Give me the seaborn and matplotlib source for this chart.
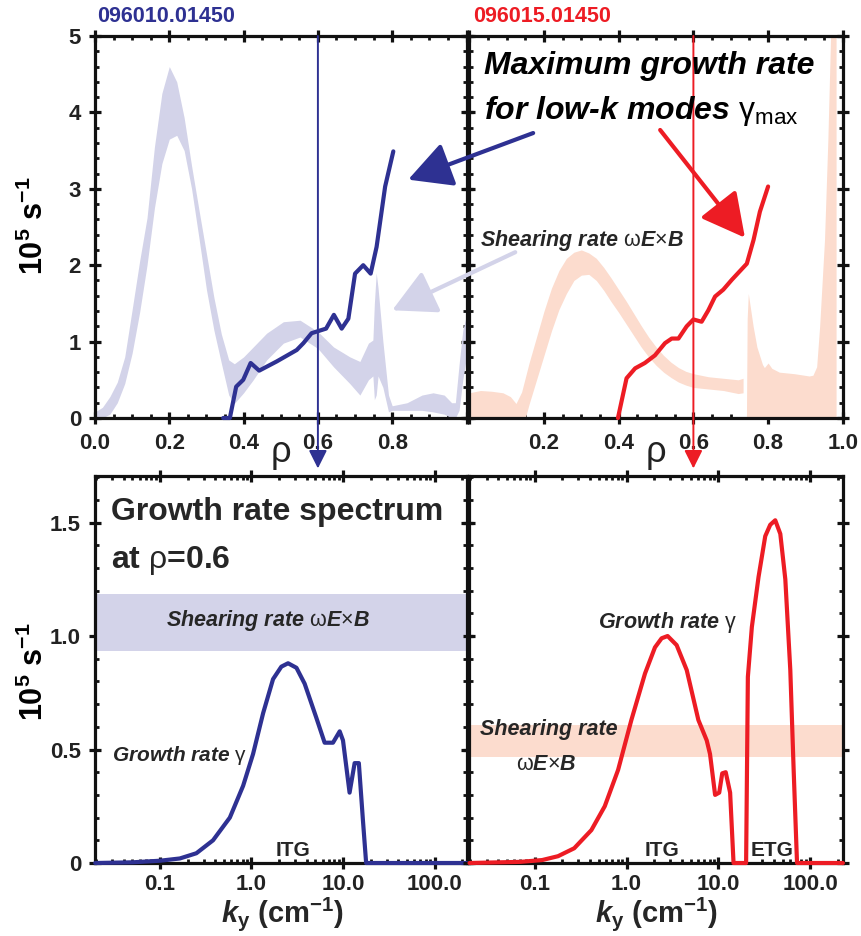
import matplotlib
matplotlib.use("Agg")
import matplotlib.pyplot as plt
import seaborn as sns
from matplotlib.ticker import MultipleLocator, FixedLocator, FixedFormatter, LogLocator, NullFormatter

# ---------------- data ----------------
# shot 096010: E x B shearing-rate band vs rho
rho_shear_10 = [0.0, 0.02, 0.04, 0.06, 0.08, 0.10, 0.12, 0.14, 0.16, 0.18, 0.20, 0.22, 0.24, 0.26,
                0.28, 0.30, 0.32, 0.34, 0.36, 0.375, 0.40, 0.426, 0.462, 0.507, 0.552, 0.60, 0.642,
                0.686, 0.713, 0.736, 0.748, 0.752, 0.757, 0.762, 0.775, 0.79, 0.80, 0.84, 0.88, 0.91,
                0.94, 0.96, 0.97, 0.98, 0.99, 1.0]
shear_lo_10 = [0.0, 0.0, 0.05, 0.2, 0.45, 0.85, 1.38, 2.0, 2.75, 3.33, 3.65, 3.7, 3.5, 3.0, 2.35,
               1.68, 1.15, 0.72, 0.3, 0.19, 0.33, 0.5, 0.76, 0.98, 1.06, 0.91, 0.67, 0.45, 0.30,
               0.5, 0.55, 0.24, 0.3, 0.55, 0.4, 0.08, 0.1, 0.1, 0.1, 0.08, 0.05, 0.0, 0.0, 0.1,
               0.5, 0.8]
shear_hi_10 = [0.08, 0.14, 0.28, 0.47, 0.8, 1.42, 2.05, 2.62, 3.55, 4.25, 4.6, 4.4, 3.93, 3.3, 2.72,
               2.15, 1.58, 1.1, 0.76, 0.71, 0.8, 0.93, 1.11, 1.26, 1.28, 1.13, 0.93, 0.8, 0.74,
               0.98, 1.02, 1.5, 1.9, 1.7, 1.0, 0.3, 0.16, 0.2, 0.3, 0.33, 0.3, 0.2, 0.2, 0.7,
               1.15, 1.35]

# shot 096010: maximum low-k growth rate vs rho
rho_gmax_10 = [0.345, 0.363, 0.380, 0.399, 0.419, 0.442, 0.489, 0.543, 0.561, 0.583, 0.622, 0.643,
               0.664, 0.682, 0.700, 0.722, 0.742, 0.758, 0.781, 0.803]
gmax_10 = [0.0, 0.0, 0.41, 0.50, 0.72, 0.62, 0.74, 0.89, 0.98, 1.11, 1.17, 1.35, 1.17, 1.30, 1.89,
           2.0, 1.89, 2.24, 3.03, 3.49]

# shot 096015: E x B shearing-rate band (core part and edge part)
rho_shear_15a = [0.0, 0.03, 0.06, 0.09, 0.11, 0.125, 0.14, 0.15, 0.16, 0.18, 0.20, 0.22, 0.24,
                 0.26, 0.28, 0.30, 0.32, 0.34, 0.36, 0.38, 0.40, 0.42, 0.44, 0.46, 0.48, 0.50,
                 0.52, 0.54, 0.56, 0.58, 0.60, 0.64, 0.68, 0.72, 0.733]
shear_lo_15a = [0, 0, 0, 0, 0, 0, 0, 0, 0.18, 0.5, 0.82, 1.14, 1.42, 1.63, 1.8, 1.87, 1.88, 1.8,
                1.67, 1.52, 1.38, 1.23, 1.08, 0.93, 0.80, 0.69, 0.6, 0.53, 0.47, 0.43, 0.40, 0.38,
                0.36, 0.32, 0.33]
shear_hi_15a = [0.33, 0.36, 0.35, 0.33, 0.28, 0.19, 0.34, 0.53, 0.72, 1.06, 1.4, 1.7, 1.93, 2.09,
                2.17, 2.2, 2.16, 2.09, 1.97, 1.83, 1.68, 1.53, 1.37, 1.21, 1.06, 0.93, 0.82, 0.73,
                0.66, 0.61, 0.58, 0.54, 0.52, 0.50, 0.52]
rho_shear_15b = [0.742, 0.744, 0.747, 0.76, 0.77, 0.785, 0.79, 0.80, 0.81, 0.83, 0.87, 0.91, 0.92,
                 0.93, 0.938, 0.951, 0.96, 0.97, 0.982]
shear_hi_15b = [0.0, 1.3, 1.63, 1.2, 0.93, 0.7, 0.66, 0.72, 0.65, 0.6, 0.58, 0.55, 0.56, 0.67, 1.2,
                2.33, 3.64, 5.5, 5.5]

# shot 096015: maximum low-k growth rate vs rho
rho_gmax_15 = [0.398, 0.421, 0.444, 0.47, 0.497, 0.524, 0.542, 0.56, 0.582, 0.60, 0.622, 0.64,
               0.658, 0.68, 0.703, 0.743, 0.761, 0.778, 0.80]
gmax_15 = [0.0, 0.52, 0.65, 0.72, 0.82, 0.98, 1.04, 1.04, 1.20, 1.29, 1.26, 1.41, 1.59, 1.68, 1.81,
           2.02, 2.33, 2.70, 3.03]

# growth-rate spectra at rho = 0.6
ky_10 = [0.0196, 0.05, 0.1, 0.165, 0.25, 0.38, 0.58, 0.81, 1.04, 1.34, 1.72, 2.12, 2.51, 3.1, 3.81,
         5.11, 6.3, 7.77, 9.2, 10.0, 11.8, 13.4, 14.9, 16.5, 17.9, 226]
gamma_10 = [0.0, 0.003, 0.01, 0.02, 0.043, 0.10, 0.20, 0.34, 0.48, 0.66, 0.81, 0.865, 0.88, 0.86,
            0.79, 0.64, 0.53, 0.53, 0.58, 0.54, 0.31, 0.44, 0.44, 0.19, 0.0, 0.0]
ky_15 = [0.0196, 0.07, 0.121, 0.18, 0.27, 0.415, 0.58, 0.81, 1.13, 1.59, 2.04, 2.41, 2.8, 3.51, 4.52,
         6.05, 7.46, 8.1, 9.2, 10.2, 11.0, 12.0, 13.4, 14.6, 20.0, 20.9, 23.1, 27.3, 32.3, 36.6,
         41.5, 47.1, 53.4, 60.5, 65.8, 71.6, 226]
gamma_15 = [0.0, 0.005, 0.013, 0.03, 0.065, 0.145, 0.25, 0.41, 0.63, 0.835, 0.95, 0.99, 1.0, 0.96,
            0.85, 0.63, 0.54, 0.48, 0.30, 0.31, 0.395, 0.40, 0.31, 0.0, 0.0, 0.82, 1.04, 1.26, 1.44,
            1.49, 1.51, 1.45, 1.25, 0.85, 0.41, 0.0, 0.0]

# shearing rate at rho = 0.6 (band limits)
shear_band_10 = [0.935, 1.185]
shear_band_15 = [0.466, 0.608]

shot_labels = ["096010.01450", "096015.01450"]
rho_ticks = [0.0, 0.2, 0.4, 0.6, 0.8, 1.0]
rho_ticklabels_left = ["0.0", "0.2", "0.4", "0.6", "0.8", ""]
rho_ticklabels_right = ["", "0.2", "0.4", "0.6", "0.8", "1.0"]
rate_ticks_top = [0, 1, 2, 3, 4, 5]
rate_ticks_bottom = [0, 0.5, 1.0, 1.5]
rate_ticklabels_bottom = ["0", "0.5", "1.0", "1.5"]
ky_ticks = [0.1, 1.0, 10.0, 100.0]
ky_ticklabels = ["0.1", "1.0", "10.0", "100.0"]

NAVY = "#2E3192"
RED = "#ED1C24"
LAVENDER = "#D3D3E9"
PEACH = "#FCDCCE"

# ---------------- style ----------------
sns.set_theme(style="white")
FONT = "Liberation Sans"
plt.rcParams["font.family"] = [FONT, "DejaVu Sans"]
plt.rcParams["mathtext.fontset"] = "custom"
plt.rcParams["mathtext.rm"] = FONT
plt.rcParams["mathtext.bf"] = f"{FONT}:bold"
plt.rcParams["mathtext.it"] = f"{FONT}:italic"
BFIT = r"\mathbf"
try:
    plt.rcParams["mathtext.bfit"] = f"{FONT}:italic:bold"
    BFIT = r"\mathbfit"
except KeyError:
    pass

W, H = 861, 936
fig = plt.figure(figsize=(W / 100, H / 100), dpi=100)
fig.patch.set_facecolor("white")


def box(x0, y0, x1, y1):
    return [x0 / W, 1 - y1 / H, (x1 - x0) / W, (y1 - y0) / H]


def fp(x, y):
    return x / W, 1 - y / H


ax_tl = fig.add_axes(box(95, 36, 466.5, 418))
ax_tr = fig.add_axes(box(469.3, 36, 842.8, 418))
ax_bl = fig.add_axes(box(95, 476, 467, 863))
ax_br = fig.add_axes(box(469.3, 476, 843, 863))

SPINE_LW = 2.3


def style_axes(ax):
    ax.set_facecolor("none")
    for s in ax.spines.values():
        s.set_visible(True)
        s.set_color("#111111")
        s.set_linewidth(SPINE_LW)
        s.set_zorder(6)
    ax.tick_params(which="major", direction="inout", length=8, width=2.3, color="#111111",
                   top=True, right=True, bottom=True, left=True, labelsize=16,
                   labelcolor="#222222")
    ax.tick_params(which="minor", direction="in", length=3.2, width=2.0, color="#111111",
                   top=True, right=True, bottom=True, left=True)
    ax.grid(False)


# ---------------- top panels: rho profiles ----------------
for ax in (ax_tl, ax_tr):
    ax.set_xlim(0, 1.0)
    ax.set_ylim(0, 5)

ax_tl.fill_between(rho_shear_10, shear_lo_10, shear_hi_10, color=LAVENDER, lw=0, zorder=1)
sns.lineplot(x=rho_gmax_10, y=gmax_10, ax=ax_tl, color=NAVY, lw=3.0, sort=False,
             estimator=None, zorder=7, clip_on=False)

ax_tr.fill_between(rho_shear_15a, shear_lo_15a, shear_hi_15a, color=PEACH, lw=0, zorder=1)
ax_tr.fill_between(rho_shear_15b, [0] * len(rho_shear_15b), shear_hi_15b, color=PEACH, lw=0,
                   zorder=1)
sns.lineplot(x=rho_gmax_15, y=gmax_15, ax=ax_tr, color=RED, lw=3.0, sort=False,
             estimator=None, zorder=7, clip_on=False)

for ax, labels in ((ax_tl, rho_ticklabels_left), (ax_tr, rho_ticklabels_right)):
    ax.xaxis.set_major_locator(FixedLocator(rho_ticks))
    ax.xaxis.set_major_formatter(FixedFormatter(labels))
    ax.xaxis.set_minor_locator(MultipleLocator(0.05))
    ax.yaxis.set_major_locator(FixedLocator(rate_ticks_top))
    ax.yaxis.set_minor_locator(MultipleLocator(0.2))
    ax.set_xlabel("")
    ax.set_ylabel("")
    style_axes(ax)
    ax.tick_params(axis="x", which="major", pad=7)
ax_tl.yaxis.set_major_formatter(FixedFormatter([str(v) for v in rate_ticks_top]))
ax_tl.tick_params(axis="y", which="major", pad=6)
ax_tr.yaxis.set_major_formatter(NullFormatter())

# ---------------- bottom panels: growth-rate spectra ----------------
for ax in (ax_bl, ax_br):
    ax.set_xscale("log")
    ax.set_xlim(10 ** -1.71, 10 ** 2.355)
    ax.set_ylim(0, 1.705)

ax_bl.axhspan(shear_band_10[0], shear_band_10[1], color=LAVENDER, lw=0, zorder=1)
sns.lineplot(x=ky_10, y=gamma_10, ax=ax_bl, color=NAVY, lw=3.0, sort=False, estimator=None,
             zorder=7, clip_on=False)
ax_br.axhspan(shear_band_15[0], shear_band_15[1], color=PEACH, lw=0, zorder=1)
sns.lineplot(x=ky_15, y=gamma_15, ax=ax_br, color=RED, lw=3.0, sort=False, estimator=None,
             zorder=7, clip_on=False)

for ax in (ax_bl, ax_br):
    ax.xaxis.set_major_locator(FixedLocator(ky_ticks))
    ax.xaxis.set_major_formatter(FixedFormatter(ky_ticklabels))
    ax.xaxis.set_minor_locator(LogLocator(base=10, subs=range(2, 10), numticks=20))
    ax.xaxis.set_minor_formatter(NullFormatter())
    ax.yaxis.set_major_locator(FixedLocator(rate_ticks_bottom))
    ax.yaxis.set_minor_locator(MultipleLocator(0.1))
    ax.set_xlabel("")
    ax.set_ylabel("")
    style_axes(ax)
    ax.tick_params(axis="x", which="major", pad=4)
ax_bl.yaxis.set_major_formatter(FixedFormatter(rate_ticklabels_bottom))
ax_bl.tick_params(axis="y", which="major", pad=6)
ax_br.yaxis.set_major_formatter(NullFormatter())

for ax in (ax_tl, ax_tr, ax_bl, ax_br):
    for lab in ax.get_xticklabels() + ax.get_yticklabels():
        lab.set_fontweight("bold")

# ---------------- rho = 0.6 markers with arrows into the spectra ----------------
for ax, col in ((ax_tl, NAVY), (ax_tr, RED)):
    ax.annotate("", xy=(0.6, -0.66), xytext=(0.6, 5.0), xycoords="data",
                arrowprops=dict(arrowstyle="-|>,head_length=0.5,head_width=0.25",
                                mutation_scale=22, lw=1.4, color=col, shrinkA=0, shrinkB=0),
                annotation_clip=False, zorder=8)

# arrows from the annotations to the curves (drawn on the right panel so they stay on top)
big_head = "-|>,head_length=0.95,head_width=0.5"
ax_tr.annotate("", xy=(0.843, 3.12), xycoords=ax_tl.transData,
               xytext=(0.171, 3.73), textcoords=ax_tr.transData,
               arrowprops=dict(arrowstyle=big_head, mutation_scale=28, lw=3.0, color=NAVY,
                               shrinkA=0, shrinkB=0),
               annotation_clip=False, zorder=9)
ax_tr.annotate("", xy=(0.80, 1.41), xycoords=ax_tl.transData,
               xytext=(0.123, 2.17), textcoords=ax_tr.transData,
               arrowprops=dict(arrowstyle=big_head, mutation_scale=28, lw=3.0, color=LAVENDER,
                               shrinkA=0, shrinkB=0),
               annotation_clip=False, zorder=9)
ax_tr.annotate("", xy=(0.738, 2.36), xytext=(0.511, 3.77),
               arrowprops=dict(arrowstyle=big_head, mutation_scale=28, lw=3.0, color=RED,
                               shrinkA=0, shrinkB=0),
               annotation_clip=False, zorder=9)

# ---------------- text ----------------
fig.text(*fp(97, 17), shot_labels[0], color=NAVY, fontsize=15.5, fontweight="bold", va="center",
         ha="left")
fig.text(*fp(473, 17), shot_labels[1], color=RED, fontsize=15.5, fontweight="bold", va="center",
         ha="left")

fig.text(*fp(484, 74), "Maximum growth rate", fontsize=23, fontweight="bold", style="italic",
         va="baseline", ha="left", color="black", zorder=10)
fig.text(*fp(484, 119), "for low-k modes " + r"$\mathrm{\gamma}_{\mathrm{max}}$", fontsize=23,
         fontweight="bold", style="italic", va="baseline", ha="left", color="black", zorder=10)

omega_exb = r"$\mathrm{\omega}" + BFIT + r"{E}{\times}" + BFIT + r"{B}$"
fig.text(*fp(480, 246), "Shearing rate " + omega_exb, fontsize=15.5, fontweight="bold",
         style="italic", va="baseline", ha="left")

ylab = r"$\mathbf{10^{5}\ s^{-1}}$"
fig.text(*fp(34, 226), ylab, fontsize=22, rotation=90, va="center", ha="center", color="black")
fig.text(*fp(34, 672), ylab, fontsize=22, rotation=90, va="center", ha="center", color="black")

fig.text(*fp(281, 452), "ρ", fontsize=26, va="center", ha="center", color="#222222")
fig.text(*fp(656, 452), "ρ", fontsize=26, va="center", ha="center", color="#222222")

xlab = r"$" + BFIT + r"{k}_{\mathbf{y}}$" + r" (cm$^{\mathbf{-1}}$)"
fig.text(*fp(283, 914), xlab, fontsize=21, fontweight="bold", va="center", ha="center")
fig.text(*fp(657, 914), xlab, fontsize=21, fontweight="bold", va="center", ha="center")

fig.text(*fp(111, 520), "Growth rate spectrum", fontsize=23, fontweight="bold", va="baseline",
         ha="left")
fig.text(*fp(111, 568), "at " + r"$\mathrm{\rho}$" + "=0.6", fontsize=23, fontweight="bold",
         va="baseline", ha="left")

fig.text(*fp(166, 626), "Shearing rate " + omega_exb, fontsize=15.5, fontweight="bold",
         style="italic", va="baseline", ha="left")
fig.text(*fp(112, 761), "Growth rate " + r"$\mathrm{\gamma}$", fontsize=15, fontweight="bold",
         style="italic", va="baseline", ha="left")
fig.text(*fp(293, 856), "ITG", fontsize=15, fontweight="bold", va="baseline", ha="center")

fig.text(*fp(598, 628), "Growth rate " + r"$\mathrm{\gamma}$", fontsize=15.5, fontweight="bold",
         style="italic", va="baseline", ha="left")
fig.text(*fp(480, 735), "Shearing rate", fontsize=15.5, fontweight="bold", style="italic",
         va="baseline", ha="left")
fig.text(*fp(516, 770), omega_exb, fontsize=15.5, fontweight="bold", style="italic",
         va="baseline", ha="left")
fig.text(*fp(662, 856), "ITG", fontsize=15, fontweight="bold", va="baseline", ha="center")
fig.text(*fp(772, 856), "ETG", fontsize=15, fontweight="bold", va="baseline", ha="center")

fig.savefig("out.png", dpi=100, facecolor="white")
